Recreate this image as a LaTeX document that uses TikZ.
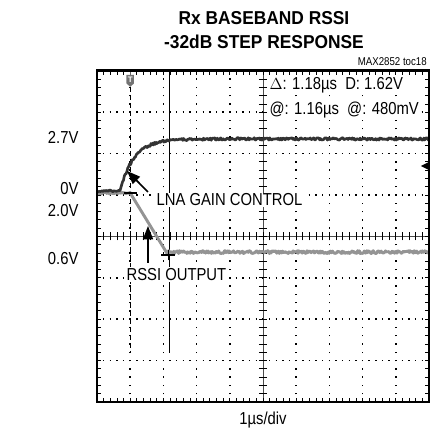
\documentclass[tikz,border=0pt]{standalone}
\usepackage{fontspec}
\setmainfont{Liberation Sans}
\newfontfamily\narrowsans{Liberation Sans}[FakeStretch=0.855]
\newfontfamily\titlesans{Liberation Sans}[FakeStretch=0.93]
\usetikzlibrary{arrows.meta}

\begin{document}
\begin{tikzpicture}[x=24.9pt,y=31.05pt,
    lbl/.style={font=\narrowsans\fontsize{13}{15}\selectfont, inner sep=1pt},
    ttl/.style={font=\titlesans\fontsize{14}{16}\selectfont\bfseries, inner sep=0pt},
    hdots/.style={line width=1.1pt, dash pattern=on 1.1pt off 3.88pt, dash phase=0.55pt},
    vdots/.style={line width=1.1pt, dash pattern=on 1.1pt off 5.11pt, dash phase=0.55pt},
    tick/.style={line width=0.6pt},
    lna/.style={line width=2pt, color=black!80, line join=round},
    rssi/.style={line width=2.2pt, color=black!42, line join=round},
    pointer/.style={line width=1.3pt, -{Triangle[length=10pt,width=7.5pt]}}]
  \useasboundingbox (-2.922,-0.797) rectangle (10.392,9.710);

  % title
  \node[ttl] (ttl1) at (5.03,9.275) {Rx BASEBAND RSSI};
  \node[ttl] (ttl2) at (5.03,8.696) {-32dB STEP RESPONSE};
  \node[font=\narrowsans\fontsize{8.5}{9}\selectfont, anchor=east, inner sep=0pt] (toc) at (9.94,8.213) {MAX2852 toc18};

  % graticule
  \foreach \k in {1,2,3,4,6,7,8,9}
    \draw[vdots] (\k,0) -- (\k,8);
  \foreach \k in {1,2,3,5,6,7}
    \draw[hdots] (0,\k) -- (10,\k);
  \draw[tick, black!70] (5,0) -- (5,8);
  \draw[tick, black!70] (0,4) -- (10,4);
  \foreach \t in {0.2,0.4,...,9.81}
  {
    \draw[tick] (\t,4) ++(0,-3pt) -- ++(0,6pt);
    \draw[tick] (\t,0) -- ++(0,3pt);
    \draw[tick] (\t,8) -- ++(0,-3pt);
  }
  \foreach \t in {0.2,0.4,...,7.81}
  {
    \draw[tick] (5,\t) ++(-3pt,0) -- ++(6pt,0);
    \draw[tick] (0,\t) -- ++(3pt,0);
    \draw[tick] (10,\t) -- ++(-3pt,0);
  }

  % cursors
  \draw[line width=0.8pt, dash pattern=on 4pt off 2pt] (1,8) -- (1,1.18);
  \draw[line width=0.9pt] (2.18,8) -- (2.18,1.18);

  % traces
  \draw[rssi] plot[domain=0:1, samples=30] (\x,{5.048+0.025*rand})
    -- (1,5.048) -- (2.14,3.55)
    -- plot[domain=2.14:10, samples=320] (\x,{3.62+0.035*rand});
  \draw[lna] plot[domain=0:0.693, samples=20] (\x,{5.097+0.02*rand})
    -- plot[domain=0.693:10, samples=360] (\x,{5.097+1.256*(1-exp(-(\x-0.693)/0.4217))+0.03*rand});

  % markers
  \draw[line width=0.8pt] (1,5.048) ++(-5pt,0) -- ++(10pt,0);
  \draw[line width=0.8pt] (2.14,3.55) ++(-5pt,0) -- ++(10pt,0) (2.14,3.55) ++(0,-4pt) -- ++(0,8pt);
  \draw[line width=0.6pt, black!60] (1,8) -- ++(0,-3pt);
  \fill[black!55] (1,8) ++(-2.8pt,-3pt) -- ++(5.6pt,0) -- ++(0,-6.5pt) -- ++(-2.8pt,-2.5pt) -- ++(-2.8pt,2.5pt) -- cycle;
  \node[text=white, font=\fontsize{6}{6}\selectfont\bfseries, inner sep=0pt] (trig) at (1,7.79) {T};
  \fill[black] (10,5.70) ++(0,3pt) -- ++(-6pt,-3pt) -- ++(6pt,-3pt) -- cycle;

  % frame
  \draw[line width=2pt] (0,0) rectangle (10,8);

  % scale labels
  \node[lbl, anchor=east] (v27) at (-0.512,6.40) {2.7V};
  \node[lbl, anchor=east] (v0) at (-0.512,5.145) {0V};
  \node[lbl, anchor=east] (v20) at (-0.512,4.614) {2.0V};
  \node[lbl, anchor=east] (v06) at (-0.512,3.454) {0.6V};
  \node[lbl] (tdiv) at (5.0,-0.435) {1µs/div};

  % readout
  \node[lbl, anchor=west, fill=white] (dlt) at (5.15,7.657) {$\Delta$: 1.18µs\ \ D: 1.62V};
  \node[lbl, anchor=west, fill=white] (at) at (5.15,7.053) {@: 1.16µs\ \ @: 480mV};

  % trace labels
  \node[lbl, anchor=west, fill=white] (lnalbl) at (1.747,4.879) {LNA GAIN CONTROL};
  \node[lbl, anchor=west, fill=white] (rssilbl) at (0.843,3.068) {RSSI OUTPUT};
  \coordinate (lnatail) at (1.536,5.072);
  \coordinate (lnatip) at (0.904,5.580);
  \coordinate (rssitail) at (1.536,3.357);
  \coordinate (rssitip) at (1.536,4.251);
  \draw[pointer] (lnatail) -- (lnatip);
  \draw[pointer] (rssitail) -- (rssitip);
\end{tikzpicture}
\end{document}
